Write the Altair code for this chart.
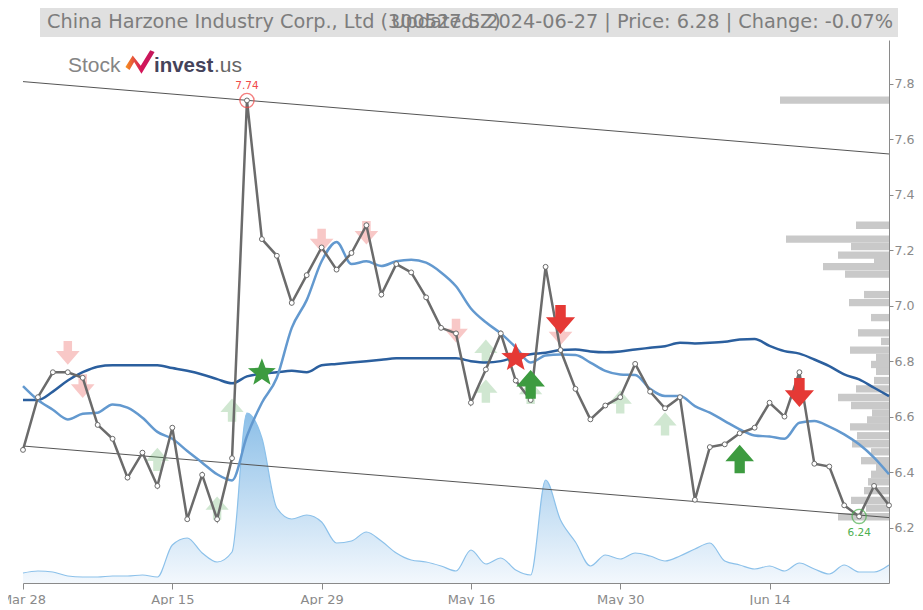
import altair as alt
import pandas as pd

# ---------------- data ----------------
tick_idx = [0, 10, 20, 30, 40, 50]
tick_labels = ["Mar 28", "Apr 15", "Apr 29", "May 16", "May 30", "Jun 14"]

price = [6.48, 6.67, 6.76, 6.76, 6.74, 6.57, 6.52, 6.38, 6.47, 6.35,
         6.56, 6.23, 6.39, 6.23, 6.45, 7.74, 7.24, 7.18, 7.01, 7.11,
         7.21, 7.13, 7.19, 7.29, 7.04, 7.15, 7.12, 7.03, 6.92, 6.90,
         6.65, 6.77, 6.90, 6.73, 6.66, 7.14, 6.84, 6.70, 6.59, 6.64,
         6.67, 6.79, 6.69, 6.63, 6.67, 6.30, 6.49, 6.50, 6.54, 6.56,
         6.65, 6.60, 6.76, 6.43, 6.42, 6.28, 6.24, 6.35, 6.28]

ma_long = [6.66, 6.66, 6.69, 6.73, 6.76, 6.78, 6.785, 6.785, 6.785, 6.785,
           6.775, 6.765, 6.752, 6.735, 6.72, 6.745, 6.755, 6.76, 6.765, 6.76,
           6.785, 6.79, 6.795, 6.80, 6.805, 6.81, 6.81, 6.81, 6.81, 6.81,
           6.80, 6.795, 6.80, 6.815, 6.825, 6.83, 6.84, 6.842, 6.835, 6.832,
           6.835, 6.842, 6.848, 6.854, 6.866, 6.864, 6.866, 6.87, 6.878, 6.88,
           6.855, 6.836, 6.827, 6.806, 6.782, 6.752, 6.734, 6.704, 6.674]

ma_short = [6.71, 6.66, 6.625, 6.59, 6.61, 6.614, 6.644, 6.632, 6.596, 6.545,
            6.52, 6.476, 6.434, 6.392, 6.37, 6.53, 6.65, 6.74, 6.92, 7.02,
            7.16, 7.23, 7.15, 7.16, 7.143, 7.16, 7.166, 7.155, 7.12, 7.07,
            6.99, 6.94, 6.90, 6.85, 6.795, 6.82, 6.824, 6.822, 6.795, 6.765,
            6.752, 6.75, 6.70, 6.674, 6.674, 6.638, 6.614, 6.584, 6.554, 6.532,
            6.528, 6.52, 6.578, 6.584, 6.564, 6.536, 6.50, 6.452, 6.392]

volume = [1.0, 1.2, 1.1, 0.7, 0.6, 0.6, 0.7, 0.7, 0.8, 0.6,
          3.8, 4.5, 3.0, 2.1, 3.1, 17.0, 14.5, 7.5, 6.4, 6.8,
          6.1, 4.0, 4.2, 5.1, 4.2, 3.0, 2.3, 2.1, 1.7, 1.2,
          3.3, 1.9, 2.5, 1.3, 0.8, 10.3, 6.3, 4.1, 1.7, 2.8,
          2.4, 3.0, 2.7, 2.2, 2.7, 3.4, 4.0, 2.2, 1.8, 1.4,
          1.7, 1.2, 2.0, 1.4, 0.9, 1.8, 1.1, 1.1, 1.8]

vp_price = [7.741, 7.290, 7.240, 7.213, 7.182, 7.161, 7.141, 7.114, 7.040, 7.011,
            6.957, 6.902, 6.871, 6.840, 6.813, 6.788, 6.763, 6.730, 6.700, 6.669,
            6.640, 6.613, 6.588, 6.563, 6.531, 6.502, 6.473, 6.441, 6.417, 6.392,
            6.365, 6.333, 6.298, 6.270, 6.239]
vp_volume = [109, 33, 103, 38, 51, 15, 66, 44, 25, 40,
             18, 31, 8, 39, 13, 18, 13, 15, 33, 51,
             38, 17, 22, 39, 32, 37, 18, 28, 13, 18,
             21, 25, 38, 23, 51]

trend_x = [0, 58]
trend_upper = [7.808, 7.547]
trend_lower = [6.494, 6.236]

light_sell_x = [3, 4, 20, 23, 29, 36]
light_sell_y = [6.83, 6.71, 7.235, 7.263, 6.91, 6.90]
strong_sell_x = [36, 52]
strong_sell_y = [6.95, 6.687]
light_buy_x = [9, 13, 14, 31, 31, 34, 40, 43]
light_buy_y = [6.446, 6.27, 6.623, 6.836, 6.692, 6.687, 6.653, 6.574]
strong_buy_x = [34, 48]
strong_buy_y = [6.716, 6.447]
star_buy_x, star_buy_y = [16], [6.758]
star_sell_x, star_sell_y = [33], [6.812]

high_mark = [15]   # index of the marked high (7.74)
low_mark = [56]    # index of the marked low (6.24)

title_left = "China Harzone Industry Corp., Ltd (300527.SZ)"
title_right = "Updated: 2024-06-27 | Price: 6.28 | Change: -0.07%"

# ---------------- chart ----------------
n = len(price)
df = pd.DataFrame({"i": list(range(n)), "price": price, "ma_long": ma_long,
                   "ma_short": ma_short, "vol": volume})

W, H = 866, 543
xs = alt.Scale(domain=[0, n - 1], nice=False, zero=False)
ys = alt.Scale(domain=[6.0, 7.958], nice=False, zero=False)

label_arr = "{" + ",".join(f"'{k}':'{v}'" for k, v in zip(tick_idx, tick_labels)) + "}"
x_axis = alt.Axis(values=tick_idx, labelExpr=f"{label_arr}[datum.value]", labelFlush=False,
                  tickSize=6, labelPadding=4, title=None, grid=False)
y_axis = alt.Axis(orient="right", values=[6.2, 6.4, 6.6, 6.8, 7.0, 7.2, 7.4, 7.6, 7.8],
                  format=".1f", tickSize=4, labelPadding=1, labelFontSize=12.6,
                  title=None, grid=False)


def X(field):
    return alt.X(field, type="quantitative", scale=xs, axis=x_axis, title=None)


def Y(field):
    return alt.Y(field, type="quantitative", scale=ys, axis=y_axis, title=None)


# volume area (own y scale)
vol_area = alt.Chart(df).mark_area(
    interpolate="monotone",
    line={"color": "#8cc1ea", "strokeWidth": 1.2},
    color=alt.Gradient(gradient="linear",
                       stops=[alt.GradientStop(color="#eef5fc", offset=0),
                              alt.GradientStop(color="#5ba4de", offset=1)],
                       x1=1, x2=1, y1=1, y2=0),
).encode(
    x=alt.X("i:Q", scale=xs, axis=None),
    y=alt.Y("vol:Q", scale=alt.Scale(domain=[0, 54.3], nice=False), axis=None),
)

# volume-by-price bars (own x scale)
vp_df = pd.DataFrame({"p": vp_price, "v": vp_volume})
vp_bars = alt.Chart(vp_df).transform_calculate(
    lo="datum.p - 0.0132", hi="datum.p + 0.0132"
).mark_rect(color="#c9c9c9").encode(
    x=alt.X("v:Q", scale=alt.Scale(domain=[0, W], reverse=True, nice=False, zero=True), axis=None),
    x2=alt.datum(0),
    y=alt.Y("lo:Q", scale=ys, axis=None),
    y2="hi:Q",
)

# trend channel
tdf = pd.DataFrame({"i": trend_x * 2, "v": trend_upper + trend_lower,
                    "g": ["u", "u", "l", "l"]})
trend = alt.Chart(tdf).mark_line(color="#555555", strokeWidth=1).encode(
    x=X("i"), y=Y("v"), detail="g:N")

DOWN = "M-0.36,-1 L0.36,-1 L0.36,-0.15 L1,-0.15 L0,1 L-1,-0.15 L-0.36,-0.15 Z"
UP = "M-0.36,1 L0.36,1 L0.36,0.15 L1,0.15 L0,-1 L-1,0.15 L-0.36,0.15 Z"
STAR = ("M0,-1 L0.247,-0.340 L0.951,-0.309 L0.400,0.130 L0.588,0.809 "
        "L0,0.420 L-0.588,0.809 L-0.400,0.130 L-0.951,-0.309 L-0.247,-0.340 Z")

RED = "#e53935"
GREEN = "#3d9b40"


def sym(xl, yl, shape, color, size, opacity=1.0):
    d = pd.DataFrame({"i": xl, "v": yl})
    return alt.Chart(d).mark_point(shape=shape, filled=True, color=color, size=size,
                                   opacity=opacity, strokeWidth=0).encode(x=X("i"), y=Y("v"))


light_sell = sym(light_sell_x, light_sell_y, DOWN, RED, 560, 0.28)
light_buy = sym(light_buy_x, light_buy_y, UP, "#43a047", 540, 0.25)
strong_sell = sym(strong_sell_x, strong_sell_y, DOWN, RED, 850)
strong_buy = sym(strong_buy_x, strong_buy_y, UP, GREEN, 820)
star_buy = sym(star_buy_x, star_buy_y, STAR, GREEN, 860)
star_sell = sym(star_sell_x, star_sell_y, STAR, RED, 920)

base = alt.Chart(df)
ma_l = base.mark_line(color="#2b5f9e", strokeWidth=2.5, interpolate="monotone").encode(
    x=X("i"), y=Y("ma_long"))
ma_s = base.mark_line(color="#6399cf", strokeWidth=2.5, interpolate="monotone").encode(
    x=X("i"), y=Y("ma_short"))
pline = base.mark_line(color="#6b6b6b", strokeWidth=2.5).encode(x=X("i"), y=Y("price"))
pts = base.mark_point(shape="circle", filled=True, fill="white", stroke="#6b6b6b",
                      strokeWidth=1, size=24, opacity=1).encode(x=X("i"), y=Y("price"))

hi_df = pd.DataFrame({"i": high_mark, "v": [price[k] for k in high_mark]})
lo_df = pd.DataFrame({"i": low_mark, "v": [price[k] for k in low_mark]})
hi_c = alt.Chart(hi_df).mark_point(shape="circle", filled=False, color="#f04a4a", size=200,
                                   strokeWidth=1.4).encode(x=X("i"), y=Y("v"))
lo_c = alt.Chart(lo_df).mark_point(shape="circle", filled=False, color="#4caf50", size=200,
                                   strokeWidth=1.4).encode(x=X("i"), y=Y("v"))
hi_t = alt.Chart(hi_df).mark_text(color="#f04a4a", font="DejaVu Sans", fontSize=10.5,
                                  dy=-14).encode(x=X("i"), y=Y("v"), text=alt.Text("v:Q", format=".2f"))
lo_t = alt.Chart(lo_df).mark_text(color="#4caf50", font="DejaVu Sans", fontSize=10.5,
                                  dy=17).encode(x=X("i"), y=Y("v"), text=alt.Text("v:Q", format=".2f"))

one = pd.DataFrame({"a": [0]})
title_box = alt.Chart(one).mark_rect(color="#e0e0e0").encode(
    x=alt.value(17), x2=alt.value(875), y=alt.value(-33), y2=alt.value(-3))
t1 = alt.Chart(one).mark_text(text=title_left, align="left", baseline="alphabetic",
                              font="DejaVu Sans", fontSize=19.3, color="#7d7d7d").encode(
    x=alt.value(24), y=alt.value(-12))
t2 = alt.Chart(one).mark_text(text=title_right, align="right", baseline="alphabetic",
                              font="DejaVu Sans", fontSize=19.3, color="#7d7d7d").encode(
    x=alt.value(870), y=alt.value(-12))

ICON = "M-1,0.35 L-0.5,-0.45 L0.05,0.25 L0.7,-0.8 L1,-0.68 L0.1,0.8 L-0.4,0.0 L-0.72,0.55 Z"
logo_icon = alt.Chart(one).mark_point(
    shape=ICON, filled=True, size=850, strokeWidth=0, opacity=1,
    color=alt.Gradient(gradient="linear",
                       stops=[alt.GradientStop(color="#f7941d", offset=0),
                              alt.GradientStop(color="#d4145a", offset=0.55),
                              alt.GradientStop(color="#c2185b", offset=1)],
                       x1=0, x2=1, y1=0.5, y2=0.5),
).encode(x=alt.value(117), y=alt.value(22))
logo_stock = alt.Chart(one).mark_text(text="Stock", align="left", baseline="alphabetic",
                                      font="Liberation Sans", fontSize=21, color="#858585").encode(
    x=alt.value(45), y=alt.value(32))
logo_invest = alt.Chart(one).mark_text(text="invest", align="left", baseline="alphabetic",
                                       font="Liberation Sans", fontSize=20.5, fontWeight="bold",
                                       color="#45435a").encode(x=alt.value(131), y=alt.value(32))
logo_us = alt.Chart(one).mark_text(text=".us", align="left", baseline="alphabetic",
                                   font="Liberation Sans", fontSize=21, color="#666666").encode(
    x=alt.value(191), y=alt.value(32))

price_layer = alt.layer(
    trend, light_sell, light_buy, ma_l, ma_s, pline, pts,
    strong_sell, strong_buy, star_buy, star_sell, hi_c, lo_c, hi_t, lo_t,
    title_box, t1, t2, logo_icon, logo_stock, logo_invest, logo_us,
)

chart = alt.layer(vol_area, vp_bars, price_layer).resolve_scale(
    x="independent", y="independent"
).properties(
    width=W, height=H,
    autosize=alt.AutoSizeParams(type="none"),
    padding={"left": 15, "top": 32, "right": 26, "bottom": 22},
).configure_view(strokeWidth=0).configure_axis(
    labelFont="DejaVu Sans", labelFontSize=13, labelColor="#8a8a8a",
    domainColor="#8a8a8a", tickColor="#8a8a8a", domainWidth=1,
)

chart.save("out.html", embed_options={"renderer": "svg", "actions": False})
